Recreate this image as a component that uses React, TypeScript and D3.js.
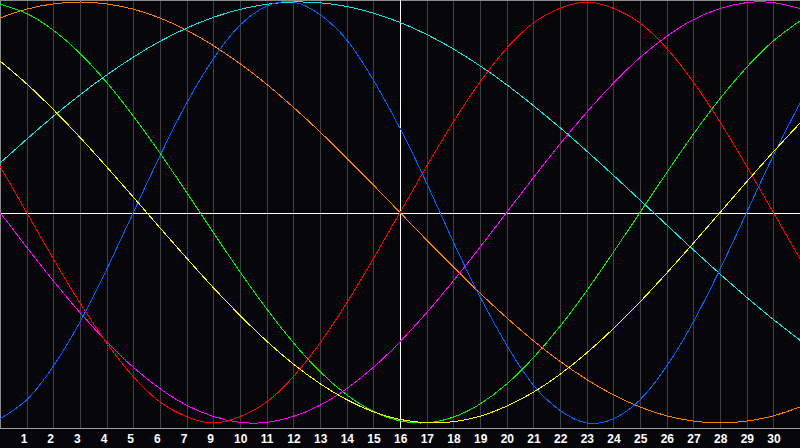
import { useRef, useEffect } from 'react';
import * as d3 from 'd3';

// day labels under grid lines 1..29 (the "8" is missing in the source)
const tickLabels = ['1', '2', '3', '4', '5', '6', '7', '9', '10', '11', '12', '13', '14', '15', '16',
  '17', '18', '19', '20', '21', '22', '23', '24', '25', '26', '27', '28', '29', '30'];

// values read at each grid column 0..30, scale -1..1
const redSeries = [0.22, 0, -0.22, -0.43, -0.62, -0.78, -0.9, -0.97, -1, -0.97, -0.9, -0.78, -0.62, -0.43, -0.22, 0,
  0.22, 0.43, 0.62, 0.78, 0.9, 0.97, 1, 0.97, 0.9, 0.78, 0.62, 0.43, 0.22, 0, -0.22];
const blueSeries = [-0.98, -0.89, -0.73, -0.52, -0.27, 0, 0.27, 0.52, 0.73, 0.89, 0.98, 1, 0.94, 0.82, 0.63, 0.4,
  0.14, -0.14, -0.4, -0.63, -0.82, -0.94, -1, -0.98, -0.89, -0.73, -0.52, -0.27, 0, 0.27, 0.52];
const greenSeries = [0.99, 0.945, 0.866, 0.756, 0.618, 0.458, 0.282, 0.095, -0.095, -0.282, -0.458, -0.618, -0.756,
  -0.866, -0.945, -0.99, -0.999, -0.972, -0.91, -0.815, -0.69, -0.541, -0.372, -0.189, 0, 0.189, 0.372, 0.541, 0.69, 0.815, 0.91];
const yellowSeries = [0.72, 0.611, 0.489, 0.357, 0.217, 0.073, -0.073, -0.217, -0.357, -0.489, -0.611, -0.72, -0.813,
  -0.889, -0.947, -0.983, -0.999, -0.994, -0.968, -0.92, -0.854, -0.769, -0.667, -0.552, -0.425, -0.288, -0.146, 0, 0.146, 0.288, 0.425];
const magentaSeries = [0, -0.165, -0.325, -0.476, -0.614, -0.736, -0.837, -0.916, -0.969, -0.997, -0.997, -0.969, -0.916,
  -0.837, -0.736, -0.614, -0.476, -0.325, -0.165, 0, 0.165, 0.325, 0.476, 0.614, 0.736, 0.837, 0.916, 0.969, 0.997, 0.997, 0.969];
const orangeSeries = [0.924, 0.966, 0.991, 1, 0.991, 0.966, 0.924, 0.866, 0.793, 0.707, 0.609, 0.5, 0.383, 0.259, 0.131,
  0, -0.131, -0.259, -0.383, -0.5, -0.609, -0.707, -0.793, -0.866, -0.924, -0.966, -0.991, -1, -0.991, -0.966, -0.924];
const cyanSeries = [0.235, 0.348, 0.457, 0.559, 0.653, 0.738, 0.813, 0.876, 0.927, 0.965, 0.989, 1, 0.996, 0.979, 0.947,
  0.903, 0.846, 0.777, 0.697, 0.607, 0.508, 0.403, 0.292, 0.177, 0.059, -0.059, -0.177, -0.292, -0.403, -0.508, -0.607];

const series = [
  { color: '#ff8000', values: orangeSeries },
  { color: '#10e8e8', values: cyanSeries },
  { color: '#ff00ff', values: magentaSeries },
  { color: '#ff0000', values: redSeries },
  { color: '#0064ff', values: blueSeries },
  { color: '#00f000', values: greenSeries },
  { color: '#ffff00', values: yellowSeries },
];

const todayIndex = 15;

export default function App() {
  const svgRef = useRef<SVGSVGElement>(null);
  const width = 800;
  const height = 448;

  useEffect(() => {
    if (!svgRef.current) return;
    const svg = d3.select(svgRef.current);
    svg.selectAll('*').remove();

    const axisY = 428;
    const x = d3.scaleLinear().domain([0, 30]).range([0, width]);
    const y = d3.scaleLinear().domain([-1, 1]).range([423, 2]);
    const px = (v: number) => Math.round(v) + 0.5;

    svg.append('rect')
      .attr('width', width)
      .attr('height', height)
      .attr('fill', '#05050a');

    // grid
    const grid = svg.append('g').attr('shape-rendering', 'crispEdges');
    d3.range(1, 30).forEach(i => {
      grid.append('line')
        .attr('x1', px(x(i))).attr('x2', px(x(i)))
        .attr('y1', 0).attr('y2', axisY)
        .attr('stroke', '#404040');
    });

    // frame
    grid.append('line').attr('x1', 0.5).attr('x2', 0.5).attr('y1', 0).attr('y2', axisY).attr('stroke', '#8a8a8a');
    grid.append('line').attr('x1', 0).attr('x2', width).attr('y1', 0.5).attr('y2', 0.5).attr('stroke', '#8a8a8a');
    grid.append('line').attr('x1', 0).attr('x2', width).attr('y1', axisY + 0.5).attr('y2', axisY + 0.5).attr('stroke', '#a0a0a0');

    // today + zero line
    grid.append('line')
      .attr('x1', px(x(todayIndex))).attr('x2', px(x(todayIndex)))
      .attr('y1', 0).attr('y2', axisY)
      .attr('stroke', '#ffffff');
    grid.append('line')
      .attr('x1', 0).attr('x2', width)
      .attr('y1', px(y(0))).attr('y2', px(y(0)))
      .attr('stroke', '#ffffff');

    // curves
    const line = d3.line<number>()
      .x((_, i) => x(i))
      .y(d => y(d))
      .curve(d3.curveNatural);

    series.forEach(s => {
      svg.append('path')
        .datum(s.values)
        .attr('fill', 'none')
        .attr('stroke', s.color)
        .attr('stroke-width', 1)
        .attr('shape-rendering', 'crispEdges')
        .attr('d', line);
    });

    // day labels
    svg.append('g')
      .selectAll('text')
      .data(tickLabels)
      .join('text')
      .attr('x', (_, i) => x(i + 1) - 6)
      .attr('y', 443)
      .attr('fill', '#ffffff')
      .style('font-family', '"Liberation Sans", Arial, sans-serif')
      .style('font-weight', 'bold')
      .style('font-size', '12px')
      .text(d => d);
  }, []);

  return (
    <svg
      ref={svgRef}
      width={width}
      height={height}
      style={{ position: 'fixed', left: 0, top: 0, display: 'block' }}
    />
  );
}
